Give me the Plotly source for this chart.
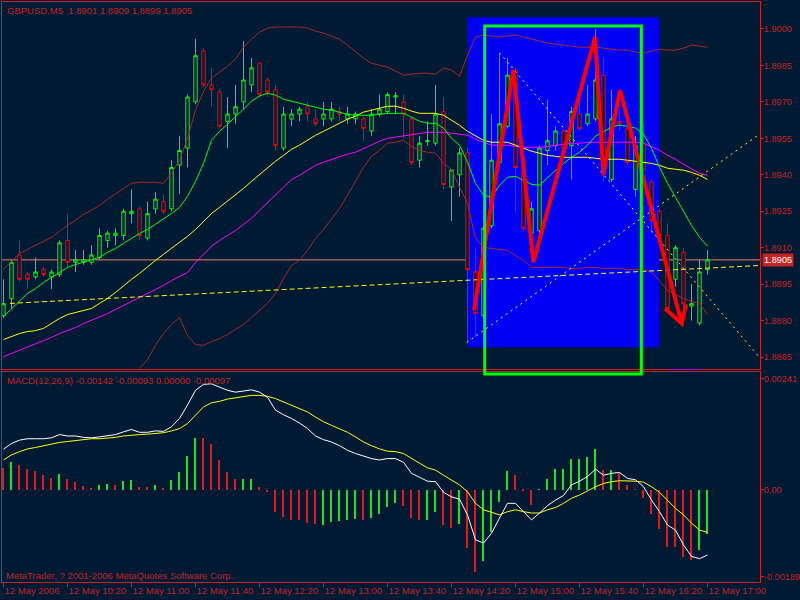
import plotly.graph_objects as go

# ---------------- data ----------------
bars = list(range(89))  # 5-minute bars, 12 May 2006 09:40 .. 17:00
tick_bars = [0, 8, 16, 24, 32, 40, 48, 56, 64, 72, 80, 88]
tick_labels = ["12 May 2006", "12 May 10:20", "12 May 11:00", "12 May 11:40",
               "12 May 12:20", "12 May 13:00", "12 May 13:40", "12 May 14:20",
               "12 May 15:00", "12 May 15:40", "12 May 16:20", "12 May 17:00"]

open_ = [1.8882, 1.8889, 1.8907, 1.8899, 1.8898, 1.8901, 1.8898, 1.8899, 1.8913, 1.8904,
         1.8904, 1.8904, 1.8906, 1.8913, 1.8915, 1.8915, 1.8924, 1.8926, 1.8914, 1.8926,
         1.8929, 1.8926, 1.8944, 1.8951, 1.8970, 1.8991, 1.8977, 1.8974, 1.8962, 1.8965,
         1.8970, 1.8977, 1.8986, 1.8979, 1.8975, 1.8951, 1.8963, 1.8965, 1.8968, 1.8963,
         1.8963, 1.8963, 1.8966, 1.8963, 1.8963, 1.8963, 1.8958, 1.8965, 1.8966, 1.8972,
         1.8970, 1.8963, 1.8946, 1.89537, 1.8953, 1.8966, 1.8935, 1.8940, 1.8949, 1.8900,
         1.8882, 1.8919, 1.8945, 1.8960, 1.8983, 1.8941, 1.8916, 1.8917, 1.8950, 1.8952,
         1.8958, 1.8952, 1.8965, 1.8961, 1.8963, 1.8981, 1.8938, 1.8962, 1.8959, 1.8934,
         1.8953, 1.8937, 1.8925, 1.8915, 1.8897, 1.8908, 1.8886, 1.8879, 1.8901]
high_ = [1.8897, 1.8905, 1.8913, 1.8900, 1.8906, 1.8902, 1.8901, 1.8913, 1.8924, 1.8909,
         1.8909, 1.8911, 1.8918, 1.8917, 1.8918, 1.8926, 1.8934, 1.8927, 1.8929, 1.8933,
         1.8932, 1.8946, 1.8956, 1.8973, 1.8996, 1.8992, 1.8984, 1.8975, 1.8972, 1.8977,
         1.8995, 1.8988, 1.8986, 1.8980, 1.8977, 1.8968, 1.8967, 1.8968, 1.8970, 1.8967,
         1.8970, 1.8970, 1.8968, 1.8968, 1.8966, 1.8964, 1.8967, 1.8973, 1.8974, 1.8974,
         1.8973, 1.8964, 1.8956, 1.8962, 1.8977, 1.8972, 1.8942, 1.8951, 1.8951, 1.8910,
         1.8919, 1.8965, 1.8990, 1.8988, 1.8984, 1.8942, 1.8929, 1.8952, 1.8971, 1.8960,
         1.8959, 1.8968, 1.8971, 1.8977, 1.9000, 1.8988, 1.8975, 1.8967, 1.8960, 1.8956,
         1.8961, 1.8938, 1.8926, 1.8920, 1.8911, 1.8910, 1.8895, 1.8905, 1.8909]
low_ = [1.8881, 1.8885, 1.8896, 1.8893, 1.8897, 1.8898, 1.8893, 1.8898, 1.8902, 1.8900,
        1.8903, 1.8903, 1.8905, 1.8910, 1.8911, 1.8913, 1.8920, 1.8913, 1.8913, 1.8924,
        1.8924, 1.8925, 1.8932, 1.8943, 1.8969, 1.8976, 1.8968, 1.8959, 1.8951, 1.8961,
        1.8967, 1.8974, 1.8972, 1.8972, 1.8950, 1.8950, 1.8960, 1.8962, 1.8962, 1.8960,
        1.8960, 1.8962, 1.8962, 1.8961, 1.8961, 1.8954, 1.8956, 1.8964, 1.8965, 1.8965,
        1.8955, 1.8944, 1.8943, 1.8952, 1.8952, 1.8934, 1.8921, 1.8931, 1.8871, 1.8873,
        1.8881, 1.8918, 1.8944, 1.8959, 1.8925, 1.8917, 1.8915, 1.8916, 1.8944, 1.8950,
        1.8950, 1.8938, 1.8958, 1.8960, 1.8962, 1.8937, 1.8937, 1.8958, 1.8944, 1.8931,
        1.8940, 1.8916, 1.8914, 1.8885, 1.8894, 1.8880, 1.8880, 1.8878, 1.8899]
close_ = [1.8887, 1.8904, 1.8897, 1.8897, 1.8900, 1.8899, 1.8900, 1.8912, 1.8904, 1.8905,
          1.8905, 1.8907, 1.8915, 1.8916, 1.8916, 1.8925, 1.8925, 1.8915, 1.8924, 1.8930,
          1.8925, 1.8943, 1.8950, 1.8972, 1.8989, 1.8977, 1.8975, 1.8960, 1.8965, 1.8968,
          1.8979, 1.8984, 1.8973, 1.8974, 1.8952, 1.8965, 1.8965, 1.8967, 1.8965, 1.8961,
          1.8965, 1.8967, 1.8965, 1.8965, 1.8965, 1.8959, 1.8965, 1.8967, 1.8973, 1.89725,
          1.8965, 1.8945, 1.8953, 1.8954, 1.8965, 1.8936, 1.8942, 1.8949, 1.8901, 1.8883,
          1.8918, 1.8946, 1.8961, 1.8981, 1.8943, 1.8918, 1.8926, 1.8951, 1.8954, 1.8958,
          1.8951, 1.8966, 1.8959, 1.8965, 1.8979, 1.8940, 1.8963, 1.8961, 1.8945, 1.8952,
          1.8942, 1.8921, 1.8915, 1.8885, 1.8910, 1.8887, 1.8887, 1.8900, 1.8905]

upper_band = [1.89011, 1.89044, 1.89077, 1.89093, 1.89110, 1.89126, 1.89143, 1.89167, 1.89192, 1.89213,
              1.89237, 1.89254, 1.89274, 1.89299, 1.89320, 1.89344, 1.89365, 1.89369, 1.89369, 1.89369,
              1.89365, 1.89406, 1.89460, 1.89550, 1.89666, 1.89744, 1.89798, 1.89822, 1.89847, 1.89876,
              1.89925, 1.89958, 1.89987, 1.90004, 1.90008, 1.90008, 1.90008, 1.90008, 1.90004, 1.89991,
              1.89983, 1.89971, 1.89958, 1.89934, 1.89905, 1.89880, 1.89859, 1.89851, 1.89843, 1.89827,
              1.89810, 1.89814, 1.89818, 1.89818, 1.89814, 1.89839, 1.89831, 1.89806, 1.89892, 1.89967,
              1.89975, 1.89971, 1.89967, 1.89971, 1.89975, 1.89967, 1.89958, 1.89950, 1.89942, 1.89938,
              1.89934, 1.89929, 1.89925, 1.89925, 1.89925, 1.89921, 1.89917, 1.89913, 1.89913, 1.89905,
              1.89901, 1.89909, 1.89917, 1.89913, 1.89913, 1.89921, 1.89934, 1.89929, 1.89925]
lower_band = [None] * 14 + [
              1.88492, 1.88533, 1.88570, 1.88603, 1.88640, 1.88698,
              1.88747, 1.88784, 1.88813, 1.88739, 1.88702, 1.88698, 1.88714, 1.88726, 1.88743, 1.88764,
              1.88784, 1.88813, 1.88842, 1.88871, 1.88912, 1.88974, 1.89027, 1.89048, 1.89089, 1.89138,
              1.89175, 1.89217, 1.89262, 1.89316, 1.89373, 1.89431, 1.89476, 1.89501, 1.89530, 1.89534,
              1.89542, 1.89517, 1.89501, 1.89493, 1.89489, 1.89447, 1.89423, 1.89349, 1.89283, 1.89138,
              1.89101, 1.89097, 1.89093, 1.89089, 1.89068, 1.89048, 1.89019, 1.89019, 1.89019, 1.89019,
              1.89019, 1.89015, 1.89015, 1.89019, 1.89019, 1.89015, 1.89015, 1.89015, 1.89011, 1.89011,
              1.89011, 1.88998, 1.88965, 1.88924, 1.88908, 1.88891, 1.88879, 1.88871, 1.88825]
ma_green = [1.88817, 1.88850, 1.88883, 1.88912, 1.88932, 1.88957, 1.88978, 1.88998, 1.89019, 1.89031,
            1.89040, 1.89052, 1.89060, 1.89081, 1.89097, 1.89118, 1.89138, 1.89159, 1.89175, 1.89196,
            1.89217, 1.89241, 1.89266, 1.89312, 1.89373, 1.89447, 1.89542, 1.89579, 1.89608, 1.89637,
            1.89670, 1.89703, 1.89724, 1.89736, 1.89728, 1.89711, 1.89703, 1.89695, 1.89686, 1.89678,
            1.89670, 1.89666, 1.89658, 1.89649, 1.89645, 1.89645, 1.89645, 1.89649, 1.89653, 1.89653,
            1.89653, 1.89637, 1.89620, 1.89612, 1.89612, 1.89592, 1.89550, 1.89522, 1.89452, 1.89365,
            1.89316, 1.89308, 1.89357, 1.89390, 1.89394, 1.89377, 1.89361, 1.89357, 1.89390, 1.89419,
            1.89447, 1.89472, 1.89493, 1.89522, 1.89559, 1.89579, 1.89596, 1.89604, 1.89600, 1.89592,
            1.89567, 1.89509, 1.89431, 1.89365, 1.89308, 1.89246, 1.89192, 1.89143, 1.89106]
ma_yellow = [1.88722, 1.88735, 1.88747, 1.88755, 1.88759, 1.88768, 1.88788, 1.88809, 1.88825, 1.88834,
             1.88842, 1.88850, 1.88871, 1.88891, 1.88916, 1.88945, 1.88970, 1.88994, 1.89023, 1.89048,
             1.89073, 1.89097, 1.89122, 1.89147, 1.89175, 1.89209, 1.89241, 1.89266, 1.89291, 1.89316,
             1.89344, 1.89373, 1.89402, 1.89431, 1.89456, 1.89480, 1.89505, 1.89522, 1.89542, 1.89563,
             1.89579, 1.89596, 1.89612, 1.89629, 1.89641, 1.89658, 1.89666, 1.89674, 1.89682, 1.89682,
             1.89674, 1.89662, 1.89653, 1.89653, 1.89653, 1.89645, 1.89625, 1.89604, 1.89579, 1.89559,
             1.89542, 1.89534, 1.89534, 1.89534, 1.89522, 1.89509, 1.89497, 1.89489, 1.89480, 1.89476,
             1.89472, 1.89472, 1.89472, 1.89472, 1.89468, 1.89464, 1.89464, 1.89464, 1.89460, 1.89456,
             1.89452, 1.89447, 1.89439, 1.89427, 1.89423, 1.89419, 1.89410, 1.89398, 1.89381]
ma_magenta = [1.88652, 1.88665, 1.88677, 1.88689, 1.88702, 1.88718, 1.88731, 1.88747, 1.88759, 1.88772,
              1.88788, 1.88801, 1.88813, 1.88829, 1.88846, 1.88862, 1.88879, 1.88895, 1.88912, 1.88928,
              1.88945, 1.88965, 1.88982, 1.88998, 1.89040, 1.89073, 1.89106, 1.89130, 1.89151, 1.89171,
              1.89196, 1.89221, 1.89254, 1.89287, 1.89320, 1.89349, 1.89381, 1.89398, 1.89419, 1.89439,
              1.89452, 1.89464, 1.89476, 1.89485, 1.89493, 1.89509, 1.89522, 1.89538, 1.89550, 1.89555,
              1.89563, 1.89567, 1.89571, 1.89575, 1.89575, 1.89575, 1.89571, 1.89567, 1.89563, 1.89546,
              1.89534, 1.89522, 1.89522, 1.89522, 1.89517, 1.89513, 1.89513, 1.89513, 1.89517, 1.89522,
              1.89526, 1.89530, 1.89530, 1.89534, 1.89534, 1.89534, 1.89534, 1.89534, 1.89534, 1.89534,
              1.89530, 1.89517, 1.89501, 1.89480, 1.89464, 1.89443, 1.89423, 1.89406, 1.89398]

# drawn objects (bar index, price)
trend_long_x = [0.81, 94.56]
trend_long_y = [1.88871, 1.89027]
trend_down_x = [62.0, 94.5]
trend_down_y = [1.89902, 1.88649]
trend_up_x = [57.9, 94.5]
trend_up_y = [1.88710, 1.89567]
zigzag_x = [58.81, 63.73, 66.23, 73.94, 74.98, 77.06, 84.78, None, 82.69, 84.78, 85.31]
zigzag_y = [1.88842, 1.89831, 1.89040, 1.89967, 1.89406, 1.89748, 1.88788, None, 1.88850, 1.88788, 1.88867]
box_x = [57.97, 81.94]
box_y = [1.88691, 1.90048]
last_price = 1.8905

macd_main = [0.000875, 0.000998, 0.00107, 0.0011, 0.0011, 0.0011, 0.00112, 0.00119, 0.00116, 0.00116,
             0.00113, 0.00112, 0.00114, 0.00116, 0.00119, 0.00125, 0.0013, 0.00124, 0.00124, 0.00127,
             0.00126, 0.00136, 0.00154, 0.00183, 0.00215, 0.00228, 0.00229, 0.00222, 0.00215, 0.00211,
             0.00213, 0.00216, 0.00211, 0.002, 0.00172, 0.00162, 0.00154, 0.00144, 0.00132, 0.00116,
             0.00108, 0.00103, 0.00095, 0.00085, 0.00078, 0.00072, 0.00067, 0.00064, 0.00067, 0.00067,
             0.00059, 0.00035, 0.00026, 0.00018, 0.00017, -0.00006, -0.00016, -0.00021, -0.00055, -0.00109,
             -0.00116, -0.00095, -0.00062, -0.0003, -0.0003, -0.00048, -0.00066, -0.00051, -0.00035, -0.00023,
             -0.00013, 0.0001, 0.00018, 0.00028, 0.00044, 0.00031, 0.00035, 0.00037, 0.00024, 0.00021,
             0.00006, -0.00023, -0.00048, -0.00077, -0.00088, -0.0012, -0.00145, -0.0015, -0.00142]
macd_signal = [0.00064, 0.00075, 0.00082, 0.00088, 0.00091, 0.00095, 0.00098, 0.00102, 0.00104, 0.00106,
               0.00108, 0.0011, 0.0011, 0.00111, 0.00113, 0.00116, 0.00118, 0.00119, 0.0012, 0.00121,
               0.00123, 0.00127, 0.00132, 0.00143, 0.00161, 0.00179, 0.00188, 0.00191, 0.00196, 0.00199,
               0.00202, 0.00204, 0.00204, 0.00202, 0.00197, 0.0019, 0.00183, 0.00175, 0.00168, 0.00157,
               0.00147, 0.00139, 0.00132, 0.00124, 0.00114, 0.00103, 0.00095, 0.00088, 0.00083, 0.00082,
               0.00078, 0.00067, 0.00057, 0.00047, 0.00042, 0.00031, 0.00021, 0.0001, -0.00005, -0.0003,
               -0.00044, -0.0005, -0.00055, -0.00048, -0.00044, -0.00048, -0.00051, -0.00051, -0.00044, -0.00039,
               -0.0003, -0.00019, -0.00012, -0.00003, 0.00006, 0.00013, 0.00017, 0.00019, 0.00019, 0.00018,
               0.00016, 0.00006, -0.00006, -0.00023, -0.00041, -0.00055, -0.00073, -0.00088, -0.00093]
macd_hist = [0.00046, 0.00059, 0.00053, 0.00044, 0.0004, 0.00031, 0.00024, 0.00034, 0.00022, 0.00016,
             0.00008, 0.00004, 0.0001, 0.00012, 0.0001, 0.00018, 0.00021, 0.00005, 0.00005, 0.0001,
             0.00003, 0.00021, 0.00037, 0.00072, 0.00112, 0.00112, 0.00098, 0.00064, 0.00037, 0.00023,
             0.00023, 0.00023, 0.00006, -0.00005, -0.00048, -0.00059, -0.00067, -0.00067, -0.00072, -0.00075,
             -0.00077, -0.0007, -0.00068, -0.00066, -0.00064, -0.00067, -0.00061, -0.00052, -0.00037, -0.00029,
             -0.00035, -0.00062, -0.00067, -0.00067, -0.00049, -0.00077, -0.00083, -0.00075, -0.00126, -0.00178,
             -0.00154, -0.00091, -0.00026, 0.0004, 0.00031, -0.00004, -0.00034, 0.00001, 0.00023, 0.00044,
             0.00044, 0.00066, 0.00066, 0.00071, 0.00088, 0.00042, 0.00042, 0.00035, 0.0001, 0.00001,
             -0.00019, -0.00053, -0.00085, -0.00124, -0.00124, -0.00147, -0.00152, -0.00132, -0.00097]
hist_up = ["r", "g", "r", "r", "r", "r", "r", "g", "r", "r",
           "r", "r", "g", "g", "r", "g", "g", "r", "r", "g",
           "r", "g", "g", "g", "g", "r", "r", "r", "r", "r",
           "g", "g", "r", "r", "r", "r", "r", "r", "r", "r",
           "g", "g", "g", "g", "g", "r", "g", "g", "g", "g",
           "r", "r", "r", "g", "g", "r", "r", "g", "r", "r",
           "g", "g", "g", "g", "r", "r", "r", "g", "g", "g",
           "g", "g", "g", "g", "g", "r", "g", "r", "r", "r",
           "r", "r", "r", "r", "r", "r", "r", "g", "g"]

price_ticks = [1.8865, 1.8880, 1.8895, 1.8910, 1.8925, 1.8940, 1.8955, 1.8970, 1.8985, 1.9000]
macd_ticks = [0.00241, 0.0, -0.00189]
macd_tick_labels = ["0.00241", "0.00", "-0.00189"]

# ---------------- style ----------------
BG = "#001a33"
AXC = "#c42424"
FONT = "Liberation Sans"
FS = 9.5
FSY = 9.2

fig = go.Figure()

def line(x, y, color, width=1, dash=None, ax=("x", "y")):
    fig.add_trace(go.Scatter(x=x, y=y, mode="lines", xaxis=ax[0], yaxis=ax[1],
                             line=dict(color=color, width=width, dash=dash),
                             hoverinfo="skip", connectgaps=False))

line(bars, upper_band, "#a52a2a")
line(bars, lower_band, "#a52a2a")
line(bars, ma_magenta, "#ff00ff")
line(bars, ma_yellow, "#ffff00")
line(bars, ma_green, "#00ff00")

fig.add_trace(go.Candlestick(
    x=bars, open=open_, high=high_, low=low_, close=close_, xaxis="x", yaxis="y",
    increasing=dict(line=dict(color="#00ff00", width=1), fillcolor=BG),
    decreasing=dict(line=dict(color="#ff0000", width=1), fillcolor=BG),
    whiskerwidth=0, hoverinfo="skip"))

line(trend_long_x, trend_long_y, "#ffff00", 1, "5px,3px")
line(trend_down_x, trend_down_y, "#ffff00", 1, "2px,4px")
line(trend_up_x, trend_up_y, "#ffff00", 1, "2px,4px")
line(zigzag_x, zigzag_y, "#ff0000", 4)

# MACD pane
fig.add_trace(go.Bar(x=bars, y=macd_hist, base=0, width=0.17, xaxis="x2", yaxis="y2",
                     marker=dict(color=["#22e022" if c == "g" else "#e81818" for c in hist_up],
                                 line=dict(width=0)), hoverinfo="skip"))
line(bars, macd_signal, "#ffff00", 1, None, ("x2", "y2"))
line(bars, macd_main, "#ffffff", 1, None, ("x2", "y2"))

xr = [-0.1875, 94.5625]
axis_common = dict(showgrid=False, zeroline=False, showline=True, mirror=True,
                   linecolor=AXC, linewidth=1, tickcolor=AXC, automargin=False)

fig.update_layout(
    width=800, height=600,
    margin=dict(l=2, r=40, t=2, b=18, autoexpand=False),
    paper_bgcolor=BG, plot_bgcolor=BG,
    showlegend=False, boxgap=0.4, bargap=0,
    xaxis=dict(domain=[0, 1], anchor="y", range=xr, showticklabels=False, ticks="",
               rangeslider=dict(visible=False), **axis_common),
    yaxis=dict(domain=[0.3664, 1], anchor="x", range=[1.88599, 1.90111], side="right",
               tickvals=price_ticks, ticktext=["%.4f" % v for v in price_ticks],
               ticks="outside", ticklen=3, ticklabelstandoff=-2,
               tickfont=dict(family=FONT, size=FSY, color=AXC), **axis_common),
    xaxis2=dict(domain=[0, 1], anchor="y2", range=xr, tickvals=tick_bars, ticktext=tick_labels,
                ticks="outside", ticklen=4, tickangle=0, ticklabelposition="outside right",
                tickfont=dict(family=FONT, size=FS, color=AXC), **axis_common),
    yaxis2=dict(domain=[0, 0.3621], anchor="x2", range=[-0.002005, 0.002547], side="right",
                tickvals=macd_ticks, ticktext=macd_tick_labels, ticks="outside", ticklen=3,
                ticklabelstandoff=-2,
                tickfont=dict(family=FONT, size=FSY, color=AXC), **axis_common),
    shapes=[
        dict(type="rect", xref="x", yref="y", x0=box_x[0], x1=box_x[1], y0=box_y[0], y1=box_y[1],
             fillcolor="#0000f5", line=dict(width=0), layer="below"),
        dict(type="line", xref="paper", yref="y", x0=0, x1=1, y0=last_price, y1=last_price,
             line=dict(color="#e8866a", width=1), layer="below"),
        dict(type="line", xref="x", yref="y", x0=83.3, x1=87.3, y0=1.88603, y1=1.88603,
             line=dict(color="#0000f5", width=1), layer="above"),
        dict(type="rect", xref="paper", yref="paper", x0=0.6368, x1=0.8434, y0=0.3586, y1=0.9586,
             line=dict(color="#00ff00", width=3), layer="above"),
    ],
    annotations=[
        dict(xref="paper", yref="paper", x=0.004, y=0.986, xanchor="left", yanchor="middle",
             text="GBPUSD,M5  1.8901 1.8909 1.8899 1.8905", showarrow=False,
             font=dict(family=FONT, size=FS, color=AXC)),
        dict(xref="paper", yref="paper", x=0.004, y=0.3466, xanchor="left", yanchor="middle",
             text="MACD(12,26,9) -0.00142 -0.00093 0.00000 -0.00097", showarrow=False,
             font=dict(family=FONT, size=FS, color=AXC)),
        dict(xref="paper", yref="paper", x=0.002, y=0.012, xanchor="left", yanchor="middle",
             text="MetaTrader, ? 2001-2006 MetaQuotes Software Corp.", showarrow=False,
             font=dict(family=FONT, size=FS, color=AXC)),
        dict(xref="paper", yref="y", x=1, y=last_price, xanchor="left", yanchor="middle", xshift=2,
             text="1.8905", showarrow=False, bgcolor=AXC, borderpad=1,
             font=dict(family=FONT, size=FSY, color="#ffffff")),
    ],
)

fig.write_html("out.html", config={"displayModeBar": False},
               post_script="document.body.style.margin='0';")
